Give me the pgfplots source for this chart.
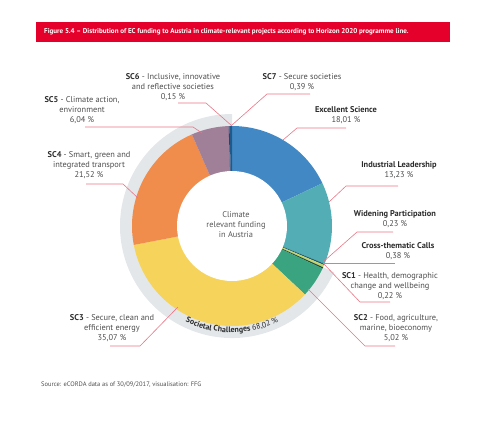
\documentclass[border=0pt]{standalone}
\usepackage{pgfplots}
\pgfplotsset{compat=1.18}
\usepackage{pgfplotstable}
\usetikzlibrary{decorations.text}
\usepackage{fontspec}
\setmainfont{PT Sans}

\definecolor{cES}{HTML}{4188C4}
\definecolor{cIL}{HTML}{52ADB5}
\definecolor{cWP}{HTML}{1E5E6E}
\definecolor{cCT}{HTML}{C8D46A}
\definecolor{cSCa}{HTML}{1D4F3F}
\definecolor{cSCb}{HTML}{3AA480}
\definecolor{cSCc}{HTML}{F6D35B}
\definecolor{cSCd}{HTML}{F08C4C}
\definecolor{cSCe}{HTML}{A07F98}
\definecolor{cSCf}{HTML}{2D3F66}
\definecolor{cSCg}{HTML}{1F5B8A}
\definecolor{ringgrey}{HTML}{E3E7EA}
\definecolor{bannerred}{HTML}{E4002B}
\definecolor{leader}{HTML}{EA7585}
\definecolor{txt}{HTML}{4D4D4D}
\definecolor{txtb}{HTML}{2B2B2B}

% share of climate-relevant funding, clockwise from the top
\pgfplotstableread{
label val col
ES  18.01 cES
IL  13.23 cIL
WP  0.23  cWP
CT  0.38  cCT
SC1 0.22  cSCa
SC2 5.02  cSCb
SC3 35.07 cSCc
SC4 21.52 cSCd
SC5 6.04  cSCe
SC6 0.15  cSCf
SC7 0.39  cSCg
}\shares

\tikzset{
  lbl/.style={align=center, text=txt, font=\fontsize{8.4}{10}\selectfont},
  ldr/.style={draw=leader, line width=0.6pt},
}

\begin{document}
\begin{tikzpicture}
\begin{axis}[
  width=500bp, height=420bp, scale only axis,
  xmin=0, xmax=500, ymin=0, ymax=420, y dir=reverse,
  hide axis, clip=false]
\path (axis cs:0,0) (axis cs:500,420);

% totals
\pgfplotstablegetrowsof{\shares}
\pgfmathtruncatemacro\last{\pgfplotsretval-1}
\def\tot{0}
\def\acc{0}
\pgfplotsforeachungrouped \i in {0,...,\last}{
  \pgfplotstablegetelem{\i}{val}\of\shares
  \ifnum\i=4 \let\scacc\tot\fi
  \pgfmathsetmacro\tot{\tot+\pgfplotsretval}
}

% Societal Challenges ring
\pgfmathsetmacro\ga{90-360*(\scacc/\tot)}
\edef\greyring{\noexpand\fill[ringgrey] (axis cs:232,226) -- ++(\ga:112bp)
  arc[start angle=\ga, end angle=-270, radius=112bp] -- cycle;}
\greyring

% segments
\pgfplotsforeachungrouped \i in {0,...,\last}{
  \pgfplotstablegetelem{\i}{val}\of\shares \let\segval\pgfplotsretval
  \pgfplotstablegetelem{\i}{col}\of\shares \let\segcol\pgfplotsretval
  \pgfmathsetmacro\sa{90-360*(\acc/\tot)}
  \pgfmathsetmacro\acc{\acc+\segval}
  \pgfmathsetmacro\sb{90-360*(\acc/\tot)}
  \edef\seg{\noexpand\fill[\segcol] (axis cs:232,226) -- ++(\sa:100bp)
    arc[start angle=\sa, end angle=\sb, radius=100bp] -- cycle;}
  \seg
}
\fill[white] (axis cs:232,226) circle[radius=55bp];

\node[lbl, text=black!65] at (axis cs:236,225) {Climate\\relevant funding\\in Austria};

\path[decorate, decoration={text along path, text align=center, text color=txtb,
  text={|\fontsize{8}{9}\selectfont\bfseries|Societal Challenges |\fontsize{8}{9}\selectfont\mdseries|68,02 {\%}}}]
  (axis cs:232,226) ++(-135:106.5bp) arc[start angle=-135, end angle=-45, radius=106.5bp];

% leader lines
\draw[ldr] (axis cs:232,125) -- (axis cs:267,94) -- (axis cs:310,94);
\draw[ldr] (axis cs:232,126) -- (axis cs:206,103) -- (axis cs:178,103);
\draw[ldr] (axis cs:202,133) -- (axis cs:193,127) -- (axis cs:85,127);
\draw[ldr] (axis cs:138,198) -- (axis cs:123,184) -- (axis cs:86,184);
\draw[ldr] (axis cs:178,307) -- (axis cs:140,346) -- (axis cs:110,346);
\draw[ldr] (axis cs:283,140) -- (axis cs:297,128) -- (axis cs:346,128);
\draw[ldr] (axis cs:329,202) -- (axis cs:346,186) -- (axis cs:398,186);
\draw[ldr] (axis cs:323,262) -- (axis cs:357,232) -- (axis cs:393,232);
\draw[ldr] (axis cs:323,263) -- (axis cs:395,263);
\draw[ldr] (axis cs:323,263) -- (axis cs:360,302) -- (axis cs:390,302);
\draw[ldr] (axis cs:308,289) -- (axis cs:365,346) -- (axis cs:395,346);

% labels
\node[lbl] at (axis cs:302,82) {\textcolor{txtb}{\textbf{SC7}} - Secure societies\\0,39 \%};
\node[lbl] at (axis cs:173,87) {\textcolor{txtb}{\textbf{SC6}} - Inclusive, innovative\\and reflective societies\\0,15 \%};
\node[lbl] at (axis cs:82,110) {\textcolor{txtb}{\textbf{SC5}} - Climate action,\\environment\\6,04 \%};
\node[lbl] at (axis cs:89,165) {\textcolor{txtb}{\textbf{SC4}} - Smart, green and\\integrated transport\\21,52 \%};
\node[lbl] at (axis cs:112,328) {\textcolor{txtb}{\textbf{SC3}} - Secure, clean and\\efficient energy\\35,07 \%};
\node[lbl] at (axis cs:346,115) {\textcolor{txtb}{\textbf{Excellent Science}}\\18,01 \%};
\node[lbl] at (axis cs:399,170) {\textcolor{txtb}{\textbf{Industrial Leadership}}\\13,23 \%};
\node[lbl] at (axis cs:395,219) {\textcolor{txtb}{\textbf{Widening Participation}}\\0,23 \%};
\node[lbl] at (axis cs:398,251) {\textcolor{txtb}{\textbf{Cross-thematic Calls}}\\0,38 \%};
\node[lbl] at (axis cs:390,286) {\textcolor{txtb}{\textbf{SC1}} - Health, demographic\\change and wellbeing\\0,22 \%};
\node[lbl] at (axis cs:396,328) {\textcolor{txtb}{\textbf{SC2}} - Food, agriculture,\\marine, bioeconomy\\5,02 \%};

% banner and source
\fill[bannerred] (axis cs:36,22) rectangle (axis cs:450,42);
\node[anchor=west, text=white, font=\fontsize{7.05}{8}\selectfont\bfseries, inner sep=0pt]
  at (axis cs:44,32) {Figure 5.4 – Distribution of EC funding to Austria in climate-relevant projects according to Horizon 2020 programme line.};
\node[anchor=west, text=txt, font=\fontsize{6.5}{8}\selectfont, inner sep=0pt]
  at (axis cs:41,385) {Source: eCORDA data as of 30/09/2017, visualisation: FFG};
\end{axis}
\end{tikzpicture}
\end{document}
